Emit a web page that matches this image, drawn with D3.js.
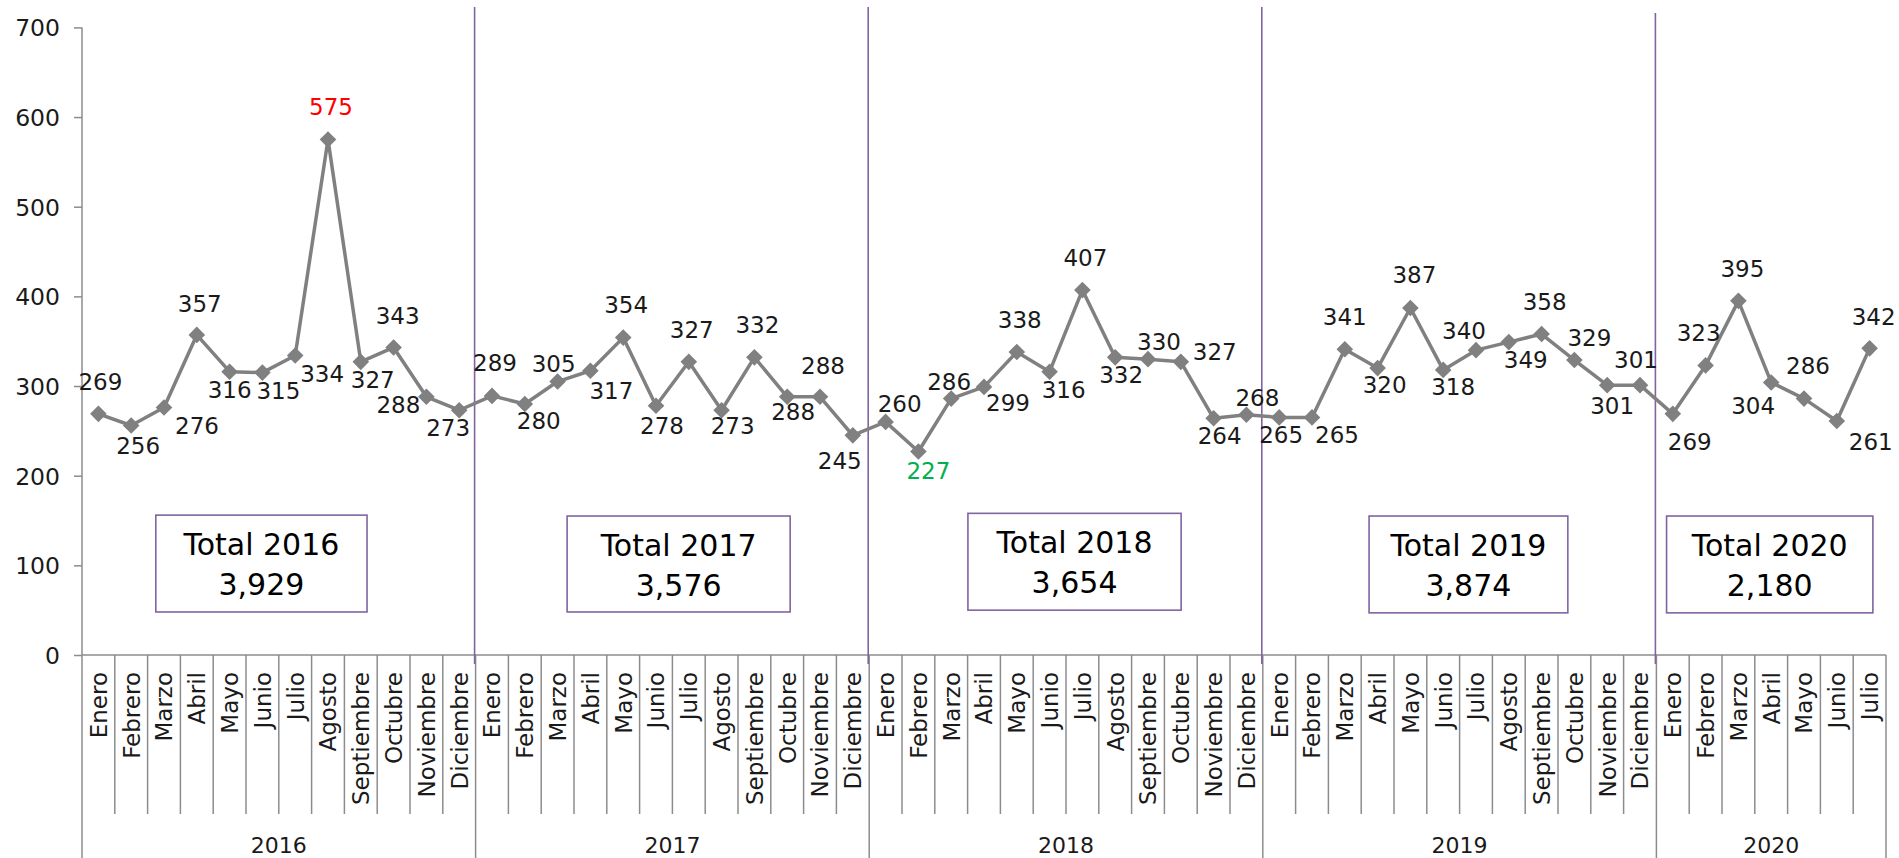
<!DOCTYPE html>
<html>
<head>
<meta charset="utf-8">
<script src="https://cdn.jsdelivr.net/npm/d3@7"></script>
<style>
  html, body { margin: 0; padding: 0; background: #fff; }
  svg { display: block; font-family: "DejaVu Sans", "Noto Sans", sans-serif; }
</style>
</head>
<body>
<svg id="chart" width="1899" height="858"></svg>
<script>
// Monthly counts by year
const years = ["2016", "2017", "2018", "2019", "2020"];
const months = ["Enero", "Febrero", "Marzo", "Abril", "Mayo", "Junio", "Julio",
  "Agosto", "Septiembre", "Octubre", "Noviembre", "Diciembre"];
const values2016 = [269, 256, 276, 357, 316, 315, 334, 575, 327, 343, 288, 273];
const values2017 = [289, 280, 305, 317, 354, 278, 327, 273, 332, 288, 288, 245];
const values2018 = [260, 227, 286, 299, 338, 316, 407, 332, 330, 327, 264, 268];
const values2019 = [265, 265, 341, 320, 387, 318, 340, 349, 358, 329, 301, 301];
const values2020 = [269, 323, 395, 304, 286, 261, 342];
const yTicks = [0, 100, 200, 300, 400, 500, 600, 700];

// Label placement for each point: [dx, dy] of the label centre from the marker
const labelOffsets = [
  [2, -32], [7, 20], [33, 18], [3, -31], [0, 18], [16, 18], [27, 18], [3, -33], [12, 18], [4, -32], [-28, 8], [-11, 17],
  [3, -33], [14, 17], [-4, -18], [21, 20], [3, -33], [6, 20], [3, -32], [11, 15], [3, -33], [6, 15], [3, -31], [-13, 25],
  [14, -18], [10, 19], [-2, -17], [24, 16], [3, -32], [14, 18], [3, -32], [6, 17], [11, -18], [34, -10], [6, 17], [11, -17],
  [2, 17], [25, 17], [0, -33], [7, 17], [4, -33], [10, 17], [-12, -20], [17, 18], [3, -32], [15, -22], [5, 20], [-4, -26],
  [17, 28], [-7, -33], [4, -32], [-18, 23], [4, -33], [34, 21], [4, -32]
];

// Total boxes: extent in category units (x) and value units (y)
const totalBoxes = [
  { x0: 2.25, x1: 8.69, y0: 48, y1: 156 },
  { x0: 14.79, x1: 21.59, y0: 48, y1: 155 },
  { x0: 27.01, x1: 33.51, y0: 50, y1: 158 },
  { x0: 39.24, x1: 45.30, y0: 47, y1: 155 },
  { x0: 48.31, x1: 54.60, y0: 47, y1: 155 }
];

const seriesByYear = [values2016, values2017, values2018, values2019, values2020];
const points = [];
seriesByYear.forEach((vals, yi) => {
  vals.forEach((v, mi) => points.push({ year: years[yi], month: months[mi], value: v }));
});
points.forEach((p, i) => { p.i = i; });

const svg = d3.select("#chart");
const plotLeft = 82, plotRight = 1886, plotTop = 27.4, plotBase = 655;

const x = d3.scaleBand().domain(d3.range(points.length)).range([plotLeft, plotRight]).padding(0);
const bw = x.bandwidth();
const xc = i => x(i) + bw / 2;
const xu = u => plotLeft + u * bw;   // continuous category units
const y = d3.scaleLinear().domain([0, 700]).range([plotBase, plotTop]);

const axisColor = "#8c8c8c";
const purple = "#8064a2";

// Y axis
const yAxis = svg.append("g")
  .attr("transform", `translate(${plotLeft},0)`)
  .call(d3.axisLeft(y).tickValues(yTicks).tickSize(8).tickPadding(14));
yAxis.select(".domain").remove();
yAxis.selectAll(".tick line").attr("stroke", axisColor).attr("stroke-width", 1.5);
yAxis.selectAll(".tick text")
  .attr("font-size", 23.5).attr("fill", "#1a1a1a")
  .attr("font-family", "DejaVu Sans, sans-serif")
  .attr("dy", "0.36em");

// vertical axis line (runs through the category table below)
svg.append("line").attr("x1", plotLeft).attr("x2", plotLeft).attr("y1", y(700)).attr("y2", 858)
  .attr("stroke", axisColor).attr("stroke-width", 1.5);
// horizontal baseline
svg.append("line").attr("x1", plotLeft).attr("x2", plotRight).attr("y1", plotBase).attr("y2", plotBase)
  .attr("stroke", axisColor).attr("stroke-width", 1.5);

// Month separators and year separators
const yearStarts = [];
let acc = 0;
seriesByYear.forEach(v => { yearStarts.push(acc); acc += v.length; });
yearStarts.push(acc);

d3.range(1, points.length + 1).forEach(k => {
  const isYear = yearStarts.includes(k);
  svg.append("line")
    .attr("x1", xu(k)).attr("x2", xu(k))
    .attr("y1", plotBase).attr("y2", isYear ? 858 : 814)
    .attr("stroke", axisColor).attr("stroke-width", 1.5);
});

// Month labels (rotated)
const xAxis = svg.append("g")
  .attr("transform", `translate(0,${plotBase})`)
  .call(d3.axisBottom(x).tickSize(0).tickFormat(i => points[i].month));
xAxis.select(".domain").remove();
xAxis.selectAll(".tick text")
  .attr("font-size", 23).attr("fill", "#1a1a1a")
  .attr("font-family", "DejaVu Sans, sans-serif")
  .attr("text-anchor", "end")
  .attr("transform", "translate(0,17) rotate(-90)")
  .attr("x", 0).attr("y", 8.4).attr("dy", 0);

// Year labels
years.forEach((yr, k) => {
  svg.append("text")
    .attr("x", (xu(yearStarts[k]) + xu(yearStarts[k + 1])) / 2)
    .attr("y", 853)
    .attr("text-anchor", "middle")
    .attr("font-size", 22).attr("fill", "#1a1a1a")
    .text(yr);
});

// Purple year dividers
yearStarts.slice(1, -1).forEach((k, j) => {
  svg.append("line")
    .attr("x1", xu(k) - 1).attr("x2", xu(k) - 1)
    .attr("y1", j === 3 ? 13 : 7).attr("y2", 664)
    .attr("stroke", purple).attr("stroke-width", 1.6);
});

// Total boxes
const fmt = d3.format(",");
totalBoxes.forEach((b, k) => {
  const bx0 = xu(b.x0), bx1 = xu(b.x1), by0 = y(b.y1), by1 = y(b.y0);
  svg.append("rect")
    .attr("x", bx0).attr("y", by0).attr("width", bx1 - bx0).attr("height", by1 - by0)
    .attr("fill", "#fff").attr("stroke", purple).attr("stroke-width", 1.6);
  const cx = (bx0 + bx1) / 2, cy = (by0 + by1) / 2;
  svg.append("text").attr("x", cx).attr("y", cy - 8.4)
    .attr("text-anchor", "middle").attr("font-size", 30).attr("fill", "#000")
    .text(`Total ${years[k]}`);
  svg.append("text").attr("x", cx).attr("y", cy + 31.6)
    .attr("text-anchor", "middle").attr("font-size", 30).attr("fill", "#000")
    .text(fmt(d3.sum(seriesByYear[k])));
});

// Line
const line = d3.line().x(d => xc(d.i)).y(d => y(d.value));
svg.append("path").datum(points)
  .attr("d", line)
  .attr("fill", "none").attr("stroke", "#808080").attr("stroke-width", 3.5)
  .attr("stroke-linejoin", "round");

// Diamond markers
const diamond = d3.symbol().type(d3.symbolSquare).size(138);
svg.append("g").selectAll("path").data(points).join("path")
  .attr("d", diamond)
  .attr("transform", d => `translate(${xc(d.i)},${y(d.value)}) rotate(45)`)
  .attr("fill", "#808080");

// Value labels
const maxV = d3.max(points, d => d.value);
const minV = d3.min(points, d => d.value);
svg.append("g").selectAll("text").data(points).join("text")
  .attr("x", d => xc(d.i) + labelOffsets[d.i][0])
  .attr("y", d => y(d.value) + labelOffsets[d.i][1] + 8.4)
  .attr("text-anchor", "middle")
  .attr("font-size", 23)
  .attr("fill", d => d.value === maxV ? "#ff0000" : d.value === minV ? "#00b050" : "#1a1a1a")
  .text(d => d.value);
</script>
</body>
</html>
